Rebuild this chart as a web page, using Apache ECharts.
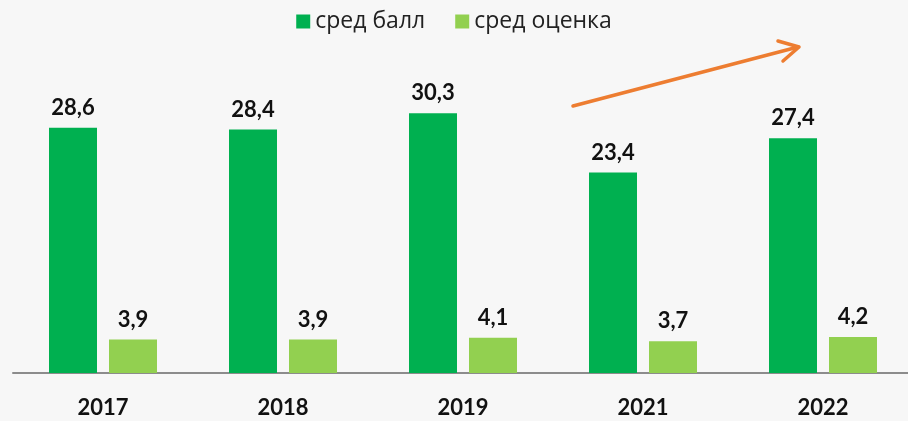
<!DOCTYPE html>
<html>
<head>
<meta charset="utf-8">
<script src="https://cdn.jsdelivr.net/npm/echarts@6/dist/echarts.min.js"></script>
<style>
  html, body { margin: 0; padding: 0; background: #f7f7f7; }
  #chart { width: 908px; height: 421px; }
</style>
</head>
<body>
<div id="chart"></div>
<script>
const years = ['2017', '2018', '2019', '2021', '2022'];
const avgScore = [28.6, 28.4, 30.3, 23.4, 27.4];
const avgGrade = [3.9, 3.9, 4.1, 3.7, 4.2];

const chart = echarts.init(document.getElementById('chart'));

// подпись с запятой
const commaLabel = function (p) {
    return String(p.value).replace('.', ',');
};

const labelStyle = {
    show: true,
    position: 'top',
    distance: 9,
    color: '#111',
    fontSize: 22,
    fontWeight: 'bold',
    fontFamily: 'Lato',
    formatter: commaLabel
};

chart.setOption({
    backgroundColor: '#f7f7f7',
    animation: false,
    legend: {
        top: 5,
        left: 'center',
        itemWidth: 14,
        itemHeight: 14,
        itemGap: 30,
        icon: 'rect',
        textStyle: { fontSize: 23, color: '#222', fontFamily: 'Open Sans' },
        data: ['сред балл', 'сред оценка']
    },
    grid: { left: 13, width: 900, top: 73, bottom: 48, outerBoundsMode: 'none' },
    xAxis: {
        type: 'category',
        data: years,
        axisTick: { show: false },
        axisLine: { lineStyle: { color: '#8c8c8c', width: 2 } },
        axisLabel: {
            margin: 24,
            color: '#111',
            fontSize: 22,
            fontWeight: 'bold',
            fontFamily: 'Lato'
        }
    },
    yAxis: {
        type: 'value',
        min: 0,
        max: 35,
        show: false,
        splitLine: { show: false }
    },
    series: [
        {
            name: 'сред балл',
            type: 'bar',
            data: avgScore,
            barWidth: 48,
            barGap: '25%',
            itemStyle: { color: '#00b050' },
            label: labelStyle
        },
        {
            name: 'сред оценка',
            type: 'bar',
            data: avgGrade,
            barWidth: 48,
            itemStyle: { color: '#92d050' },
            label: labelStyle
        }
    ],
    graphic: [
        {
            type: 'line',
            shape: { x1: 573, y1: 106, x2: 798, y2: 47 },
            style: { stroke: '#ed7d31', lineWidth: 3.5, lineCap: 'round' }
        },
        {
            type: 'polyline',
            shape: { points: [[778, 41], [799, 47], [783, 61]] },
            style: { stroke: '#ed7d31', lineWidth: 3.5, fill: null, lineCap: 'round', lineJoin: 'round' }
        }
    ]
});
</script>
</body>
</html>
